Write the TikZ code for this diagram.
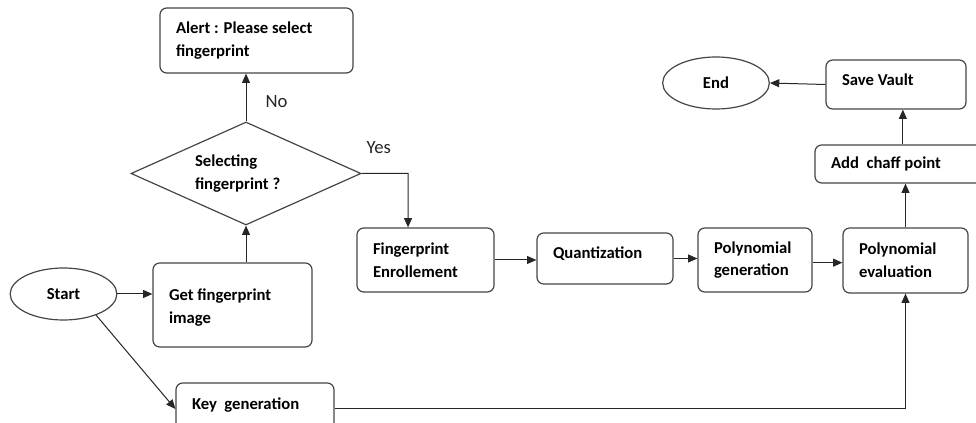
\documentclass[tikz,border=0pt]{standalone}
\usepackage{fontspec}
\setmainfont{Carlito}
\usetikzlibrary{arrows.meta,shapes.geometric,calc}
\definecolor{boxLine}{HTML}{454545}
\tikzset{
  box/.style={draw=boxLine, line width=0.9pt, rounded corners=5pt, align=flush left,
              font=\bfseries\fontsize{12.5}{17}\selectfont, inner xsep=12pt,
              inner ysep=0pt, text width=#1},
  box/.default=80pt,
  term/.style={draw=boxLine, line width=0.9pt, ellipse, inner sep=0pt,
               font=\bfseries\fontsize{12.5}{17}\selectfont,
               minimum width=80pt, minimum height=39pt},
  dec/.style={draw=boxLine, line width=0.9pt, diamond, aspect=2.23, inner sep=0pt,
              align=flush left, text width=76.5pt, font=\bfseries\fontsize{12.5}{17}\selectfont,
              minimum width=172.5pt, minimum height=77.25pt},
  arr/.style={-{Triangle[length=7pt,width=6pt]}, black!85, line width=0.75pt},
  lbl/.style={font=\fontsize{14}{16}\selectfont},
}
\begin{document}
\begin{tikzpicture}[x=0.75pt, y=-0.75pt]
  \useasboundingbox (0,0) rectangle (976,423);
  % left part
  \node[term] (start) at (63.5,294) {Start};
  \node[box=95.25pt, minimum height=63pt, text depth=15pt] (getimg) at (232.5,305)
    {Get fingerprint\\image};
  \node[dec] (dec) at (246,173.5) {Selecting\\fingerprint ?};
  \node[box=120.75pt, minimum height=48.75pt] (alert) at (256.5,40.5)
    {Alert : Please select\\fingerprint};
  \node[box=94.5pt, minimum height=39pt, text depth=8pt] (keygen) at (255,409)
    {Key\ \ generation};
  % main row
  \node[box=78.75pt, minimum height=48pt] (enroll) at (425.5,260)
    {Fingerprint\\Enrollement};
  \node[box=78pt, minimum height=38.25pt, text depth=9pt] (quant) at (605,258.5)
    {Quantization};
  \node[box=61.5pt, minimum height=48pt] (polygen) at (755,260)
    {Polynomial\\generation};
  \node[box=69.75pt, minimum height=48.75pt] (polyeval) at (905.5,260.5)
    {Polynomial\\evaluation};
  % right column
  \node[box=107.25pt, minimum height=28.5pt] (chaff) at (902.5,164)
    {Add\ \ chaff point};
  \node[box=81pt, minimum height=36.75pt, text depth=8pt] (save) at (896,84.5)
    {Save Vault};
  \node[term] (stop) at (716,83) {End};

  \draw[arr] (start.east) -- (start.east -| getimg.west);
  \draw[arr] (start.-33) -- (keygen.west);
  \draw[arr] (getimg.north -| dec.south) -- (dec.south);
  \draw[arr] (dec.north) -- node[lbl, right=11pt, pos=0.41] {No} (dec.north |- alert.south);
  \draw[arr] (dec.east) -- node[lbl, anchor=base west, pos=0, yshift=15pt] {Yes}
    ($(dec.east -| enroll.north)+(-17.5,0)$) -- ([xshift=-13.1pt]enroll.north);
  \draw[arr] (enroll.east) -- (enroll.east -| quant.west);
  \draw[arr] (quant.east) -- (quant.east -| polygen.west);
  \draw[arr] ([yshift=-2pt]polygen.east) -- ([yshift=-2pt]polygen.east -| polyeval.west);
  \draw[arr] (polyeval.north) -- (polyeval.north |- chaff.south);
  \draw[arr] ([xshift=-2pt]polyeval.north |- chaff.north) -- ([xshift=-2pt]polyeval.north |- save.south);
  \draw[arr] (save.west) -- (stop.east);
  \draw[arr] (keygen.east) -| (polyeval.south);
\end{tikzpicture}
\end{document}
